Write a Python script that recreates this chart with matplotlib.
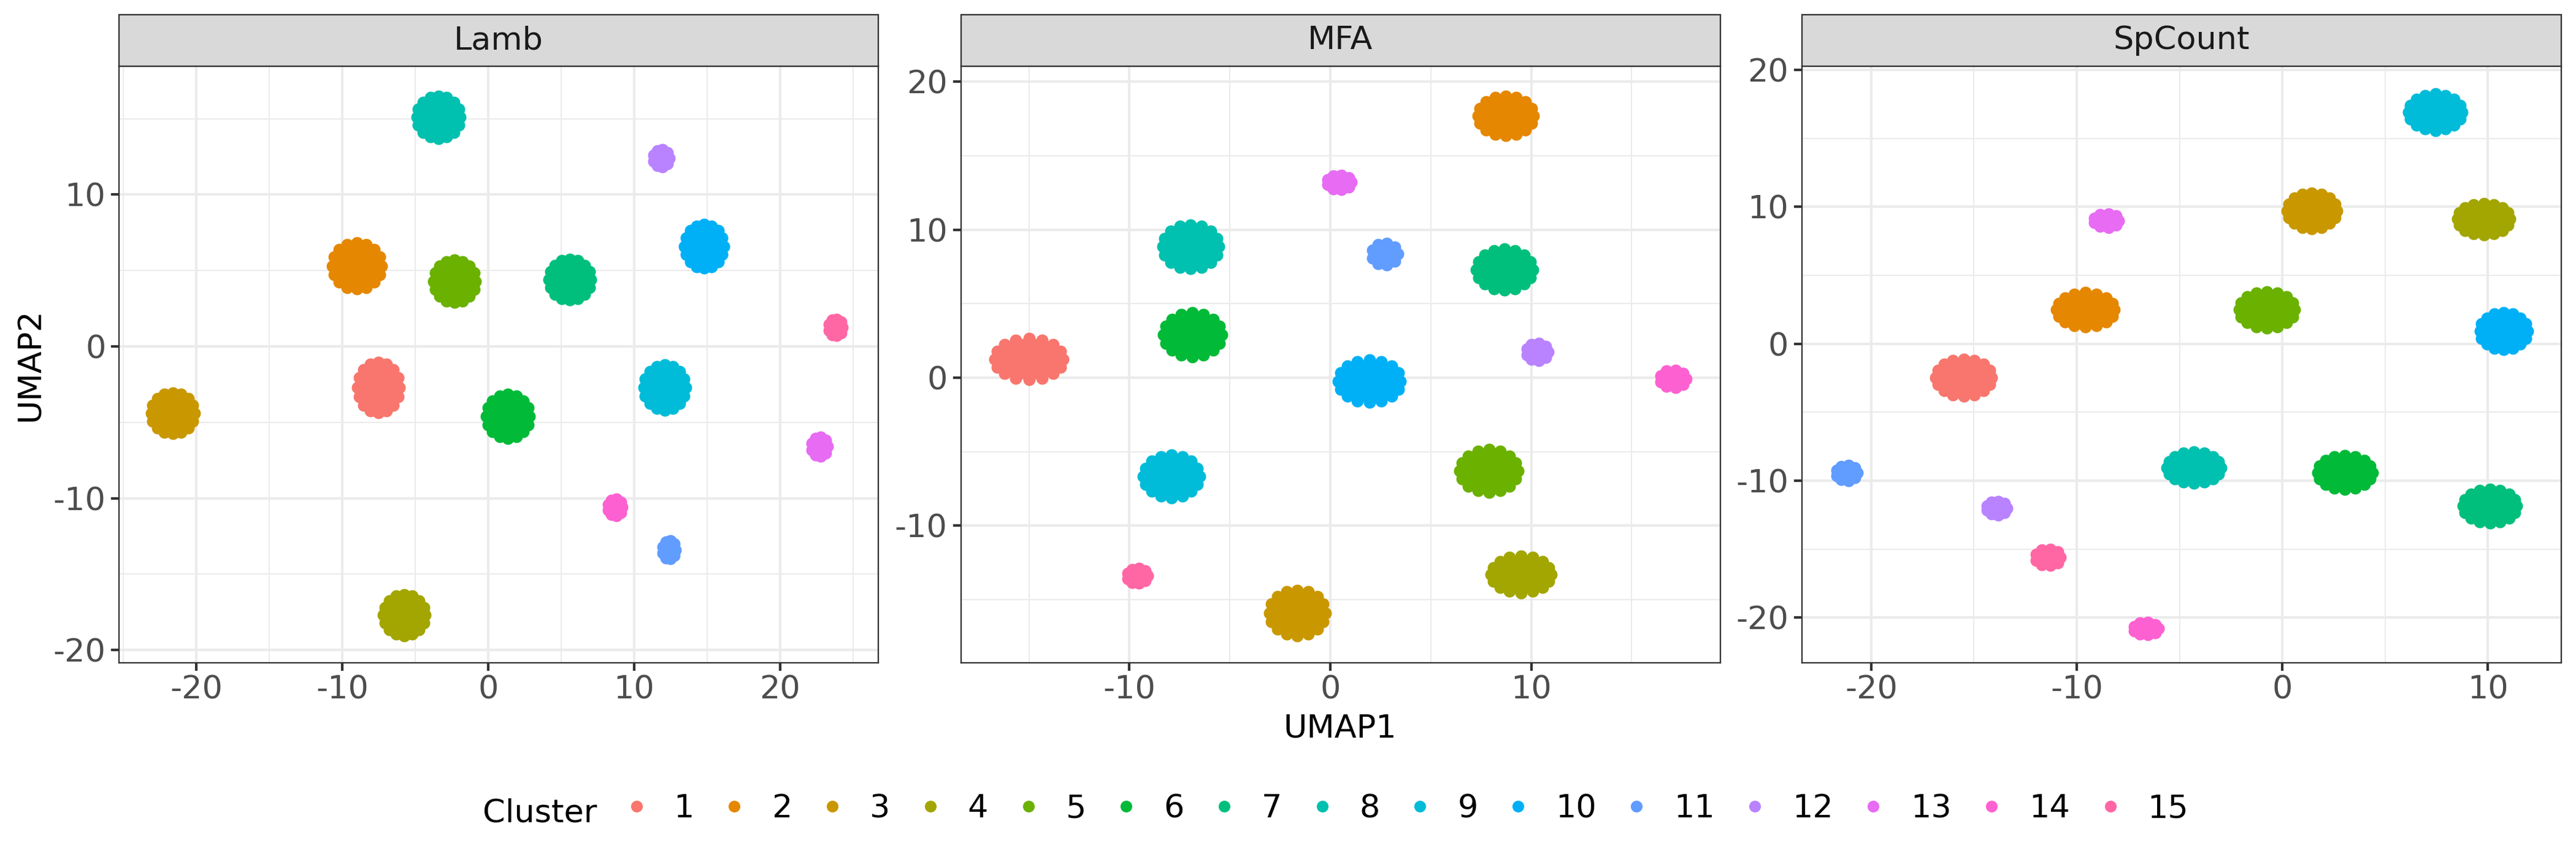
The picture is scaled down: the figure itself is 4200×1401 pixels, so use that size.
import numpy
import matplotlib
matplotlib.use('Agg')
import matplotlib.pyplot as plt
from matplotlib.patches import Ellipse, Rectangle
from matplotlib.lines import Line2D

###################################################################
# data: cluster centre (x, y) and blob extent (w, h)
CLUSTERS = [str(i) for i in range(1, 16)]
COLORS = ['#F8766D', '#E58700', '#C99800', '#A3A500', '#6BB100',
          '#00BA38', '#00BF7D', '#00C0AF', '#00BCD8', '#00B0F6',
          '#619CFF', '#B983FF', '#E76BF3', '#FD61D1', '#FF67A4']

PANELS = ['Lamb', 'MFA', 'SpCount']

lamb_x = [-7.5, -9.0, -21.6, -5.75, -2.3, 1.35, 5.6, -3.4, 12.1, 14.8, 12.4, 11.86, 22.7, 8.7, 23.8]
lamb_y = [-2.7, 5.3, -4.4, -17.7, 4.3, -4.6, 4.4, 15.1, -2.7, 6.6, -13.4, 12.4, -6.6, -10.6, 1.25]
lamb_w = [3.7, 4.2, 3.8, 3.7, 3.7, 3.8, 3.7, 3.8, 3.7, 3.5, 1.7, 1.94, 1.9, 1.8, 1.75]
lamb_h = [4.1, 3.85, 3.5, 3.5, 3.6, 3.7, 3.5, 3.6, 3.8, 3.7, 2.0, 1.96, 2.1, 1.9, 1.9]

mfa_x = [-15.0, 8.73, -1.64, 9.5, 7.9, -6.86, 8.67, -6.95, -7.9, 1.95, 2.7, 10.3, 0.45, 17.06, -9.6]
mfa_y = [1.25, 17.7, -15.9, -13.3, -6.3, 2.9, 7.3, 8.85, -6.67, -0.23, 8.35, 1.75, 13.2, -0.07, -13.4]
mfa_w = [4.0, 3.36, 3.4, 3.6, 3.5, 3.5, 3.4, 3.4, 3.4, 3.7, 1.9, 1.7, 1.8, 1.9, 1.6]
mfa_h = [3.6, 3.5, 3.9, 3.3, 3.7, 3.8, 3.6, 3.8, 3.7, 3.7, 2.3, 2.0, 1.8, 2.0, 1.85]

sp_x = [-15.5, -9.57, 1.44, 9.8, -0.75, 3.04, 10.1, -4.3, 7.44, 10.77, -21.2, -13.9, -8.56, -6.64, -11.4]
sp_y = [-2.47, 2.47, 9.7, 9.1, 2.47, -9.4, -11.85, -9.05, 16.9, 0.92, -9.44, -12.0, 9.0, -20.8, -15.6]
sp_w = [3.3, 3.4, 3.0, 3.15, 3.3, 3.25, 3.2, 3.2, 3.2, 2.9, 1.6, 1.6, 1.8, 1.8, 1.8]
sp_h = [3.6, 3.4, 3.5, 3.2, 3.55, 3.35, 3.35, 3.2, 3.55, 3.6, 2.0, 1.9, 1.9, 1.8, 2.1]

# axis limits / ticks per facet
XLIMS = [(-25.28, 26.74), (-18.39, 19.4), (-23.37, 13.57)]
YLIMS = [(-20.84, 18.44), (-19.27, 21.03), (-23.3, 20.24)]
XTICKS = [[-20, -10, 0, 10, 20], [-10, 0, 10], [-20, -10, 0, 10]]
YTICKS = [[-20, -10, 0, 10], [-10, 0, 10, 20], [-20, -10, 0, 10, 20]]
XMINOR = [[-25, -15, -5, 5, 15, 25], [-15, -5, 5, 15], [-15, -5, 5]]
YMINOR = [[-15, -5, 5, 15], [-15, -5, 5, 15], [-15, -5, 5, 15]]


def main():
    DPI = 300
    fig = plt.figure(figsize=(14, 4.67), dpi=DPI)
    plt.rcParams['font.family'] = ['DejaVu Sans']

    lefts = [0.04626, 0.37298, 0.69952]
    BOTTOM = 0.22841
    WIDTH = 0.29476
    HEIGHT = 0.69415
    STRIP = 0.06031

    data = [(lamb_x, lamb_y, lamb_w, lamb_h),
            (mfa_x, mfa_y, mfa_w, mfa_h),
            (sp_x, sp_y, sp_w, sp_h)]

    for i, name in enumerate(PANELS):
        ax = fig.add_axes([lefts[i], BOTTOM, WIDTH, HEIGHT])
        setup_panel(ax, i)
        draw_clusters(ax, data[i], WIDTH * 4200, HEIGHT * 1401)
        strip(ax, name, STRIP / HEIGHT)

    fig.text(0.52017, 0.14133, 'UMAP1', ha='center', va='baseline', fontsize=12.6, color='black')
    fig.text(0.0118, 0.5754, 'UMAP2', ha='center', va='center', rotation=90, fontsize=12.6, color='black')

    legend(fig)
    fig.savefig('out.png', dpi=DPI, facecolor='white')


def setup_panel(ax, i):
    ax.set_xlim(*XLIMS[i])
    ax.set_ylim(*YLIMS[i])
    ax.set_xticks(XTICKS[i])
    ax.set_yticks(YTICKS[i])
    ax.set_xticks(XMINOR[i], minor=True)
    ax.set_yticks(YMINOR[i], minor=True)
    ax.set_xticklabels([str(t) for t in XTICKS[i]])
    ax.set_yticklabels([str(t) for t in YTICKS[i]])
    ax.set_axisbelow(True)
    ax.grid(which='major', color='#EBEBEB', linewidth=1.0)
    ax.grid(which='minor', color='#EBEBEB', linewidth=0.5)
    ax.tick_params(which='minor', length=0)
    ax.tick_params(which='major', length=3.05, width=1.0, color='#333333',
                   labelsize=12.6, labelcolor='#4D4D4D')
    ax.tick_params(axis='x', pad=1.6)
    ax.tick_params(axis='y', pad=2.2)
    for s in ax.spines.values():
        s.set_color('#333333')
        s.set_linewidth(0.55)


def draw_clusters(ax, d, px_w, px_h):
    xs, ys, ws, hs = d
    x0, x1 = ax.get_xlim()
    y0, y1 = ax.get_ylim()
    DOT_PX = 20
    dot_x = DOT_PX * (x1 - x0) / px_w
    dot_y = DOT_PX * (y1 - y0) / px_h
    for k in range(len(CLUSTERS)):
        cw = max(ws[k] - dot_x, 0.2)
        ch = max(hs[k] - dot_y, 0.2)
        ax.add_patch(Ellipse((xs[k], ys[k]), cw, ch, facecolor=COLORS[k],
                             edgecolor='none', zorder=2))
        # ring of dots around the core, like the outer points of the blob
        n = 16 if ws[k] > 2.5 else 9
        ang = numpy.linspace(0, 2 * numpy.pi, n, endpoint=False)
        ax.scatter(xs[k] + cw / 2 * numpy.cos(ang), ys[k] + ch / 2 * numpy.sin(ang),
                   s=23, color=COLORS[k], linewidths=0, zorder=2)


def strip(ax, name, h):
    ax.add_patch(Rectangle((0, 1), 1, h, transform=ax.transAxes, clip_on=False,
                           facecolor='#D9D9D9', edgecolor='#333333', linewidth=0.55, zorder=3))
    ax.text(0.5, 1 + h / 2, name, transform=ax.transAxes, ha='center', va='center',
            fontsize=12.6, color='#1A1A1A')


def legend(fig):
    handles = [Line2D([], [], marker='o', linestyle='', color=c, markersize=4.6,
                      markeredgewidth=0) for c in COLORS]
    fig.legend(handles, CLUSTERS, loc='center left', bbox_to_anchor=(0.24083, 0.0585),
               ncol=15, frameon=False, fontsize=12.6, handlelength=1.0,
               handletextpad=0.662, columnspacing=0.744, borderpad=0, borderaxespad=0)
    fig.text(0.23167, 0.04354, 'Cluster', ha='right', va='baseline', fontsize=12.6, color='black')


if __name__ == '__main__':
    main()
